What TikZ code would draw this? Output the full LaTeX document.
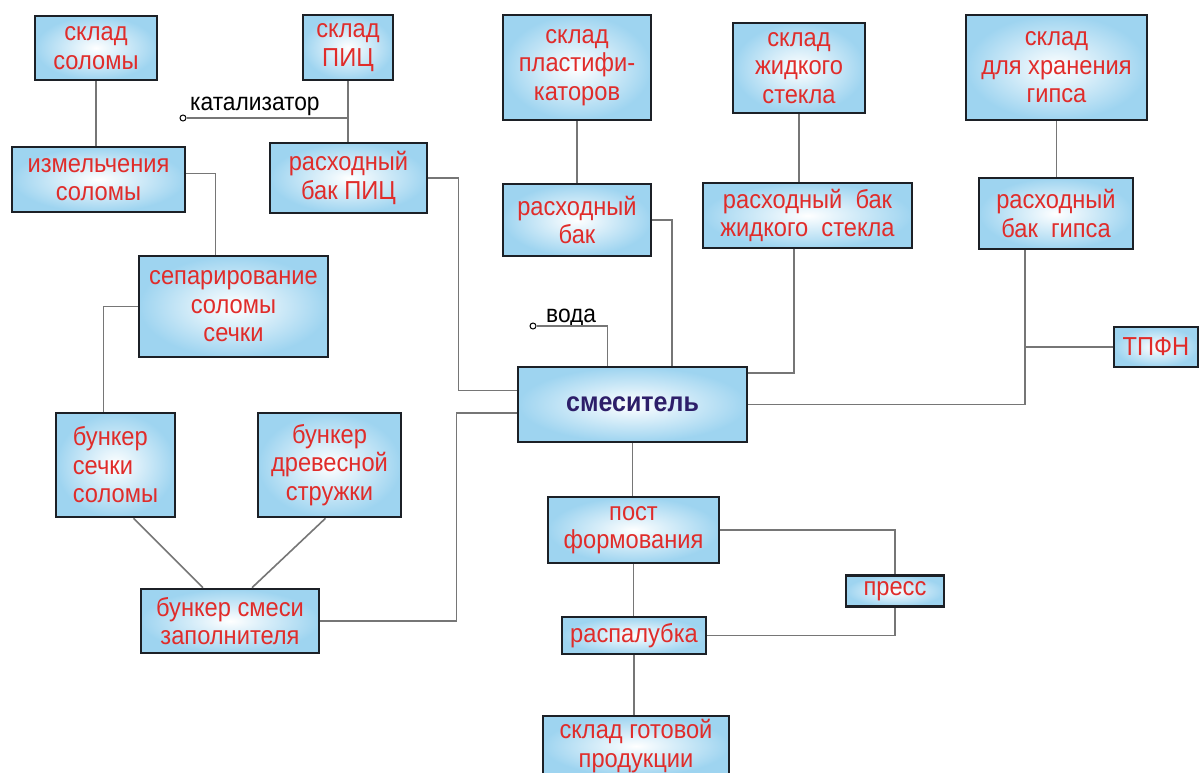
\documentclass[tikz,border=0pt]{standalone}
\usepackage{fontspec}
\setmainfont{Liberation Sans}[FakeStretch=0.91]
\definecolor{blokblue}{RGB}{158,212,240}
\definecolor{blokred}{RGB}{224,44,42}
\definecolor{blokline}{RGB}{28,32,38}
\definecolor{liniya}{RGB}{118,118,118}
\definecolor{smesnavy}{RGB}{45,30,105}

\begin{document}
\begin{tikzpicture}[x=1pt, y=-1pt,
  blok/.style 2 args={draw=blokline, line width=2.6pt, inner color=white, outer color=blokblue, text=blokred, align=center, inner sep=0pt, minimum width=#1, minimum height=#2, font=\fontsize{26}{28.5}\selectfont},
  svyaz/.style={draw=liniya, line width=1.6pt},
  kruzhok/.style={circle, draw=black, fill=white, line width=1pt, inner sep=0pt, minimum size=6pt},
  metka/.style={font=\fontsize{25}{28}\selectfont, inner sep=0pt}]
\useasboundingbox (0,0) rectangle (1203,773);
\fill[white] (0,0) rectangle (1203,773);

\node[blok={122pt}{64pt}] (skladSol) at (96,48) {склад\\соломы};
\node[blok={90pt}{65pt}] (skladPIC) at (348,47.5) {склад\\ПИЦ};
\node[blok={173pt}{65pt}] (izmSol) at (98.5,179.5) {измельчения\\соломы};
\node[blok={157pt}{70pt}] (bakPIC) at (348.5,178) {расходный\\бак ПИЦ};
\node[blok={148pt}{105pt}] (skladPlast) at (577,67.5) {склад\\пластифи-\\каторов};
\node[blok={132pt}{90pt}] (skladStek) at (799,68) {склад\\жидкого\\стекла};
\node[blok={181pt}{105pt}] (skladGips) at (1056.5,67.5) {склад\\для хранения\\гипса};
\node[blok={148pt}{72pt}] (bakPlast) at (577,220) {расходный\\бак};
\node[blok={209pt}{65pt}] (bakStek) at (807.5,215.5) {расходный\ \ бак\\жидкого\ \ стекла};
\node[blok={154pt}{71pt}] (bakGips) at (1056,213.5) {расходный\\бак\ \ гипса};
\node[blok={189pt}{101pt}] (separ) at (233.5,306.5) {сепарирование\\соломы\\сечки};
\node[blok={84pt}{40pt}] (tpfn) at (1156,347) {ТПФН};
\node[blok={229pt}{75pt}, text=smesnavy, font=\bfseries\fontsize{27.5}{30}\selectfont] (smes) at (632.5,404.5) {смеситель};
\node[blok={119pt}{104pt}, align=left] (bunSech) at (115.5,465) {бункер\\сечки\\соломы};
\node[blok={143pt}{104pt}] (bunDrev) at (329.5,465) {бункер\\древесной\\стружки};
\node[blok={171pt}{66pt}] (post) at (633.5,530) {пост\\формования};
\node[blok={98pt}{31pt}] (press) at (895,591) {пресс};
\node[blok={144pt}{37pt}] (raspal) at (634,635.5) {распалубка};
\node[blok={178pt}{64pt}] (bunSmes) at (230,621) {бункер смеси\\заполнителя};
\node[blok={186pt}{60pt}] (skladGot) at (636,746) {склад готовой\\продукции};

\node[kruzhok] (katIn) at (183,118) {};
\node[metka, anchor=base west] (katTxt) at (190,111) {катализатор};
\node[kruzhok] (vodaIn) at (533,326) {};
\node[metka, anchor=base west] (vodaTxt) at (546,322) {вода};

\draw[svyaz] (skladSol.south) -- (skladSol.south |- izmSol.north);
\draw[svyaz] (skladPIC.south) -- (skladPIC.south |- bakPIC.north);
\draw[svyaz] (katIn.east) -- (katIn.east -| skladPIC.south);
\draw[svyaz] ([yshift=6pt]izmSol.east) -| ([xshift=-18pt]separ.north);
\draw[svyaz] (separ.west) -| ([xshift=-12pt]bunSech.north);
\draw[svyaz] ([xshift=18pt]bunSech.south) -- ([xshift=-27pt]bunSmes.north);
\draw[svyaz] ([xshift=-4pt]bunDrev.south) -- ([xshift=22pt]bunSmes.north);
\draw[svyaz] (bunSmes.east) -- ++(136,0) |- ([yshift=-8.5pt]smes.west);
\draw[svyaz] (bakPIC.east) -- ++(30,0) |- ([yshift=14pt]smes.west);
\draw[svyaz] (vodaIn.east) -| ([xshift=-25pt]smes.north);
\draw[svyaz] (skladPlast.south) -- (skladPlast.south |- bakPlast.north);
\draw[svyaz] (bakPlast.east) -| ([xshift=39.5pt]smes.north);
\draw[svyaz] (skladStek.south) -- (skladStek.south |- bakStek.north);
\draw[svyaz] ([xshift=-13.5pt]bakStek.south) |- ([yshift=31.5pt]smes.east);
\draw[svyaz] (skladGips.south) -- (skladGips.south |- bakGips.north);
\coordinate (gipsOut) at ([xshift=-31pt]bakGips.south);
\draw[svyaz] (gipsOut) |- (smes.east);
\draw[svyaz] (tpfn.west) -- (gipsOut |- tpfn.west);
\draw[svyaz] (smes.south) -- (smes.south |- post.north);
\draw[svyaz] (post.south) -- (post.south |- raspal.north);
\draw[svyaz] (raspal.south) -- (raspal.south |- skladGot.north);
\draw[svyaz] (post.east) -| (press.north);
\draw[svyaz] (press.south) |- (raspal.east);
\end{tikzpicture}
\end{document}
